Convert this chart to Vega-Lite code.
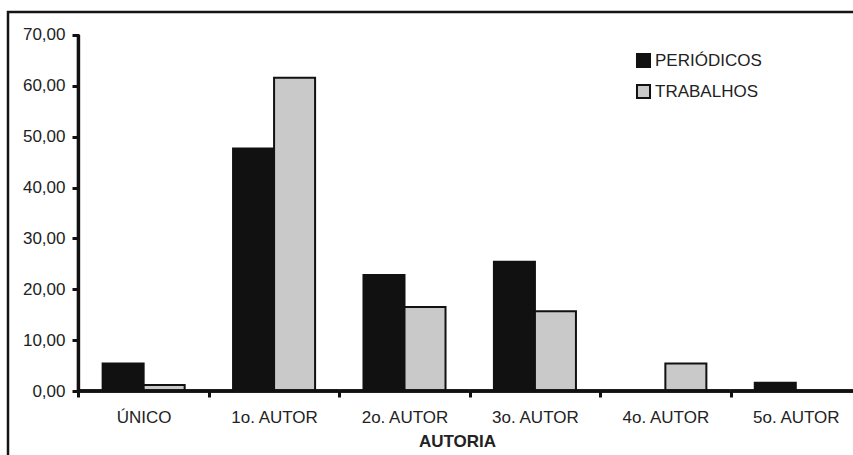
{
  "$schema": "https://vega.github.io/schema/vega-lite/v6.json",
  "autosize": {"type": "none"},
  "padding": {"left": 8, "top": 12, "right": 0, "bottom": 0},
  "width": 853,
  "height": 450,
  "background": "white",
  "config": {
    "view": {"stroke": "#151515", "strokeWidth": 2.5},
    "font": "Liberation Sans",
    "axis": {"labelFont": "Liberation Sans", "titleFont": "Liberation Sans"}
  },
  "data": {
    "values": [
      {"autoria": "ÚNICO", "serie": "PERIÓDICOS", "valor": 5.4},
      {"autoria": "ÚNICO", "serie": "TRABALHOS", "valor": 1.2},
      {"autoria": "1o. AUTOR", "serie": "PERIÓDICOS", "valor": 47.7},
      {"autoria": "1o. AUTOR", "serie": "TRABALHOS", "valor": 61.6},
      {"autoria": "2o. AUTOR", "serie": "PERIÓDICOS", "valor": 22.8},
      {"autoria": "2o. AUTOR", "serie": "TRABALHOS", "valor": 16.5},
      {"autoria": "3o. AUTOR", "serie": "PERIÓDICOS", "valor": 25.4},
      {"autoria": "3o. AUTOR", "serie": "TRABALHOS", "valor": 15.7},
      {"autoria": "4o. AUTOR", "serie": "PERIÓDICOS", "valor": 0},
      {"autoria": "4o. AUTOR", "serie": "TRABALHOS", "valor": 5.4},
      {"autoria": "5o. AUTOR", "serie": "PERIÓDICOS", "valor": 1.6},
      {"autoria": "5o. AUTOR", "serie": "TRABALHOS", "valor": 0}
    ]
  },
  "layer": [
    {
      "mark": {"type": "bar", "stroke": "#111", "strokeWidth": 2},
      "encoding": {
        "x": {
          "field": "autoria",
          "type": "nominal",
          "sort": null,
          "scale": {
            "domain": ["ÚNICO", "1o. AUTOR", "2o. AUTOR", "3o. AUTOR", "4o. AUTOR", "5o. AUTOR"],
            "paddingInner": 0, "paddingOuter": 0.27, "align": 1
          },
          "axis": {
            "title": "AUTORIA",
            "orient": "bottom",
            "offset": -71,
            "domain": false,
            "tickBand": "extent",
            "tickSize": 6,
            "tickWidth": 3,
            "tickColor": "#111",
            "labelAngle": 0,
            "labelFontSize": 17,
            "labelColor": "#222",
            "labelPadding": 12,
            "titleFontSize": 17,
            "titleFontWeight": "bold",
            "titleColor": "#222",
            "titleX": 449,
            "titleY": 42
          }
        },
        "xOffset": {
          "field": "serie",
          "type": "nominal",
          "scale": {"paddingInner": 0, "paddingOuter": 0.59}
        },
        "y": {
          "field": "valor",
          "type": "quantitative",
          "scale": {"domain": [-13.96, 74.52], "nice": false, "zero": false},
          "axis": {
            "title": null,
            "offset": -71,
            "domain": false,
            "grid": false,
            "values": [0, 10, 20, 30, 40, 50, 60, 70],
            "labelExpr": "replace(format(datum.value, '.2f'), '.', ',')",
            "tickSize": 7,
            "tickWidth": 3,
            "tickColor": "#111",
            "labelFontSize": 17,
            "labelColor": "#222",
            "labelPadding": 7
          }
        },
        "color": {
          "field": "serie",
          "type": "nominal",
          "scale": {"domain": ["PERIÓDICOS", "TRABALHOS"], "range": ["#111111", "#c9c9c9"]},
          "legend": {
            "title": null,
            "orient": "none",
            "legendX": 627,
            "legendY": 40,
            "symbolType": "square",
            "symbolSize": 170,
            "symbolStrokeColor": "#111",
            "symbolStrokeWidth": 2,
            "labelFontSize": 17,
            "labelColor": "#222",
            "labelOffset": 3,
            "rowPadding": 8
          }
        }
      }
    },
    {
      "mark": {"type": "rect", "color": "#111"},
      "encoding": {
        "x": {"field": "autoria", "type": "nominal", "sort": null},
        "y": {"datum": -0.32, "type": "quantitative"},
        "y2": {"datum": 0.32}
      }
    },
    {
      "data": {"values": [{}]},
      "mark": {"type": "rule", "color": "#111", "strokeWidth": 3.5},
      "encoding": {
        "x": {"datum": "ÚNICO", "type": "nominal", "bandPosition": 0},
        "y": {"datum": 0, "type": "quantitative"},
        "y2": {"datum": 70}
      }
    }
  ]
}
